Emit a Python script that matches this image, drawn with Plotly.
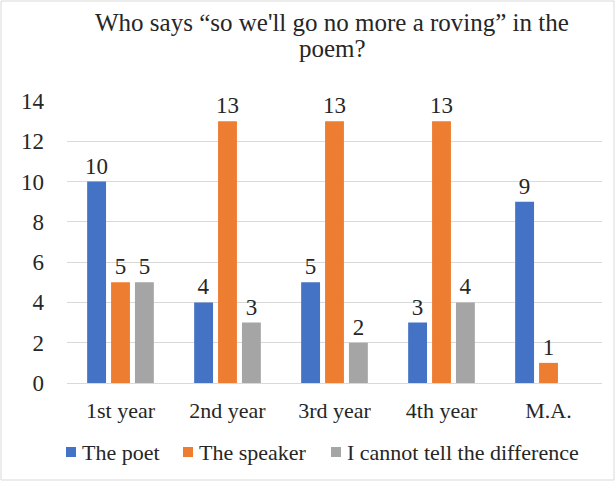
import plotly.graph_objects as go

categories = ["1st year", "2nd year", "3rd year", "4th year", "M.A."]
poet = [10, 4, 5, 3, 9]
speaker = [5, 13, 13, 13, 1]
cannot_tell = [5, 3, 2, 4, 0]

series = [
    ("The poet", poet, "#4472C4"),
    ("The speaker", speaker, "#ED7D31"),
    ("I cannot tell the difference", cannot_tell, "#A5A5A5"),
]
title_lines = ["Who says \u201cso we'll go no more a roving\u201d in the", "poem?"]

FONT = "Liberation Serif"
TXT = "#262626"
W, H = 615, 481
ML, MR, MT, MB = 67, 13, 101, 98
pw, ph = W - ML - MR, H - MT - MB


def px_x(px):
    return (px - ML) / pw


def px_y(py):
    return (H - MB - py) / ph


fig = go.Figure()
for name, vals, color in series:
    fig.add_trace(go.Bar(
        x=categories, y=vals, name=name,
        marker=dict(color=color, line=dict(width=0)),
        text=[str(v) if v else "" for v in vals],
        textposition="outside", cliponaxis=False, constraintext="none",
        textfont=dict(family=FONT, size=23, color=TXT),
        showlegend=False,
    ))

# chart border
fig.add_shape(type="rect", xref="paper", yref="paper",
              x0=px_x(1), x1=px_x(W - 1), y0=px_y(H - 1), y1=px_y(1),
              line=dict(color="#D9D9D9", width=1), layer="below")

# two-line chart title
for line, py in zip(title_lines, [23, 48]):
    fig.add_annotation(text=line, xref="paper", yref="paper",
                       x=px_x(332), y=px_y(py),
                       xanchor="center", yanchor="middle", showarrow=False,
                       font=dict(family=FONT, size=25, color=TXT))

# legend row below the axis: colour key + series name
legend_keys_x = [66, 183, 331]
for (name, _, color), kx in zip(series, legend_keys_x):
    fig.add_shape(type="rect", xref="paper", yref="paper",
                  x0=px_x(kx), x1=px_x(kx + 10), y0=px_y(457), y1=px_y(447),
                  line=dict(width=0), fillcolor=color)
    fig.add_annotation(text=name, xref="paper", yref="paper",
                       x=px_x(kx + 14), y=px_y(452),
                       xanchor="left", yanchor="middle", showarrow=False,
                       font=dict(family=FONT, size=22, color=TXT))

fig.update_layout(
    width=W, height=H,
    margin=dict(l=ML, r=MR, t=MT, b=MB, autoexpand=False),
    paper_bgcolor="white", plot_bgcolor="white",
    font=dict(family=FONT, color=TXT),
    barmode="group", bargap=0.33, bargroupgap=0.21,
    showlegend=False,
    xaxis=dict(tickfont=dict(family=FONT, size=22, color=TXT),
               showline=True, linecolor="#D9D9D9", linewidth=1,
               ticks="", showgrid=False, ticklabelstandoff=8),
    yaxis=dict(range=[0, 14], dtick=2, tickfont=dict(family=FONT, size=23, color=TXT),
               showgrid=True, gridcolor="#D9D9D9", gridwidth=1,
               zeroline=False, showline=False, ticks="", ticklabelstandoff=22),
)

fig.write_html("out.html")
